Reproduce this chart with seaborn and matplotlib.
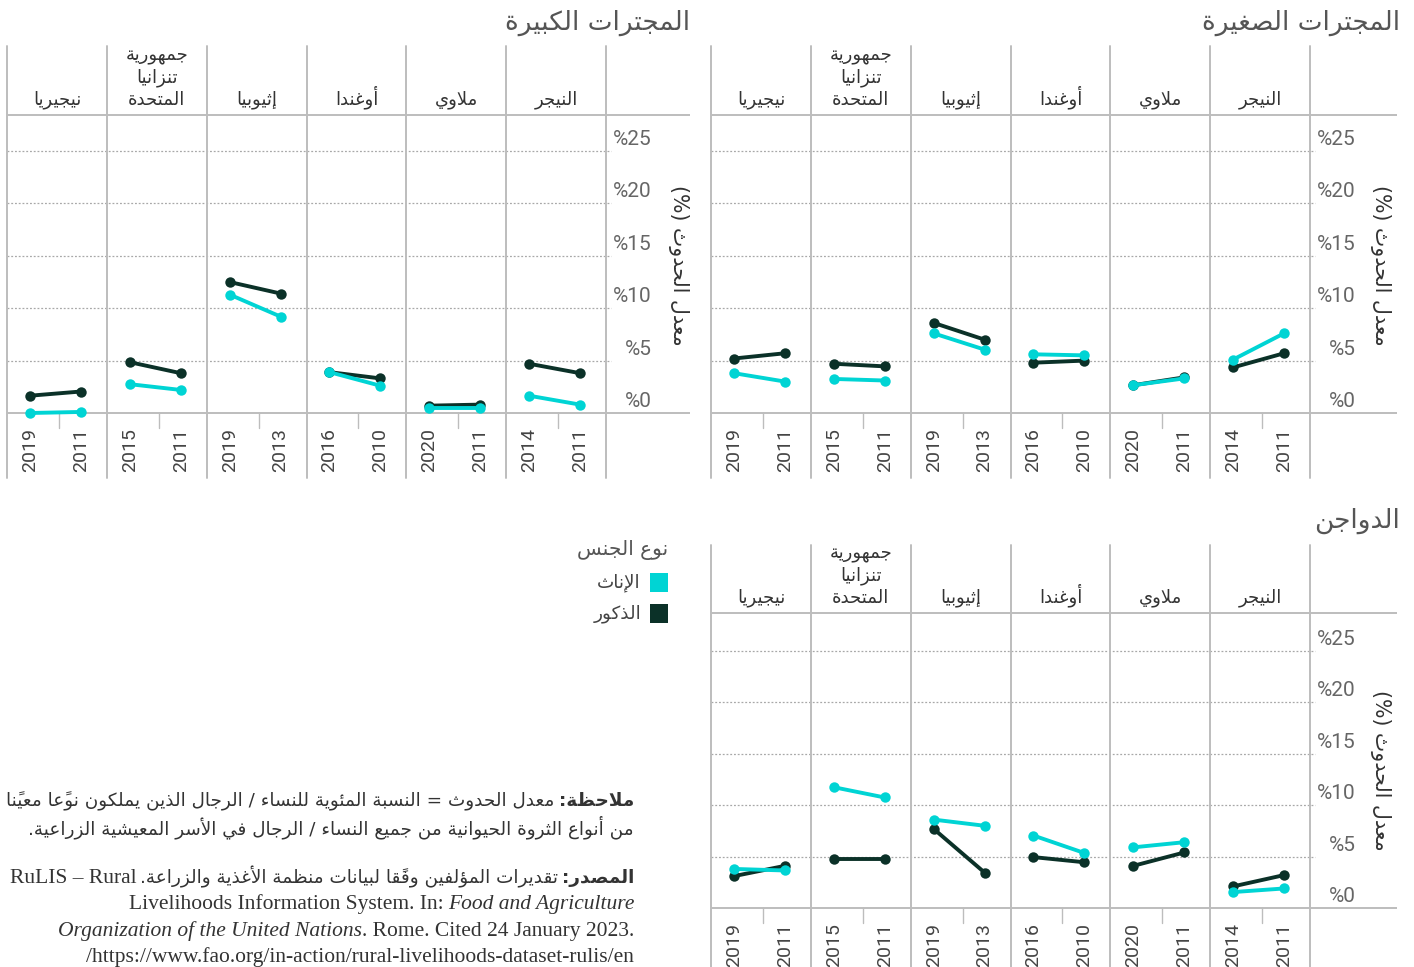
import matplotlib
matplotlib.use('Agg')
import matplotlib.pyplot as plt
import seaborn as sns
import pandas as pd
from matplotlib.patches import Rectangle

# ----------------------------------------
# data (columns left -> right as drawn)
# ----------------------------------------
countries = ['نيجيريا', 'جمهورية\nتنزانيا\nالمتحدة', 'إثيوبيا', 'أوغندا', 'ملاوي', 'النيجر']
years_recent = ['2019', '2015', '2019', '2016', '2020', '2014']
years_base = ['2011', '2011', '2013', '2010', '2011', '2011']

small_women_recent = [3.8, 3.25, 7.6, 5.6, 2.65, 5.1]
small_women_base = [3.0, 3.1, 6.05, 5.5, 3.3, 7.6]
small_men_recent = [5.2, 4.7, 8.6, 4.8, 2.65, 4.35]
small_men_base = [5.7, 4.45, 7.0, 5.0, 3.4, 5.7]

large_women_recent = [0.0, 2.75, 11.3, 3.9, 0.45, 1.65]
large_women_base = [0.1, 2.2, 9.2, 2.6, 0.45, 0.8]
large_men_recent = [1.65, 4.85, 12.5, 3.9, 0.7, 4.7]
large_men_base = [2.05, 3.8, 11.4, 3.3, 0.8, 3.8]

poultry_women_recent = [3.8, 11.75, 8.6, 7.05, 5.9, 1.55]
poultry_women_base = [3.65, 10.75, 8.0, 5.35, 6.4, 1.9]
poultry_men_recent = [3.1, 4.8, 7.7, 4.95, 4.1, 2.1]
poultry_men_base = [4.1, 4.8, 3.45, 4.45, 5.4, 3.2]

yticks = [0, 5, 10, 15, 20, 25]
women, men = 'الإناث', 'الذكور'

# ----------------------------------------
# minimal arabic shaping (matplotlib has no bidi / shaping)
# ----------------------------------------
DUAL = {0x0626: 0xFE89, 0x0628: 0xFE8F, 0x062A: 0xFE95, 0x062B: 0xFE99, 0x062C: 0xFE9D,
        0x062D: 0xFEA1, 0x062E: 0xFEA5, 0x0633: 0xFEB1, 0x0634: 0xFEB5, 0x0635: 0xFEB9,
        0x0636: 0xFEBD, 0x0637: 0xFEC1, 0x0638: 0xFEC5, 0x0639: 0xFEC9, 0x063A: 0xFECD,
        0x0641: 0xFED1, 0x0642: 0xFED5, 0x0643: 0xFED9, 0x0644: 0xFEDD, 0x0645: 0xFEE1,
        0x0646: 0xFEE5, 0x0647: 0xFEE9, 0x064A: 0xFEF1}
RIGHT = {0x0622: 0xFE81, 0x0623: 0xFE83, 0x0624: 0xFE85, 0x0625: 0xFE87, 0x0627: 0xFE8D,
         0x0629: 0xFE93, 0x062F: 0xFEA9, 0x0630: 0xFEAB, 0x0631: 0xFEAD, 0x0632: 0xFEAF,
         0x0648: 0xFEED, 0x0649: 0xFEEF}
LAM_ALEF = {0x0622: 0xFEF5, 0x0623: 0xFEF7, 0x0625: 0xFEF9, 0x0627: 0xFEFB}
HARAKAT = set(range(0x064B, 0x0653))
MIRROR = {'(': ')', ')': '('}


def shape(line):
    clusters = []
    for ch in line:
        if ord(ch) in HARAKAT and clusters:
            clusters[-1][1] += ch
        else:
            clusters.append([ch, ''])
    merged = []
    i = 0
    while i < len(clusters):
        b, m = clusters[i]
        if b == 'ل' and i + 1 < len(clusters) and ord(clusters[i + 1][0]) in LAM_ALEF:
            merged.append(['LA' + clusters[i + 1][0], m + clusters[i + 1][1]])
            i += 2
        else:
            merged.append([b, m])
            i += 1

    def joins_next(b):
        return len(b) == 1 and ord(b) in DUAL

    def joins_prev(b):
        return b.startswith('LA') or (len(b) == 1 and (ord(b) in DUAL or ord(b) in RIGHT))

    out = []
    for i, (b, m) in enumerate(merged):
        pc = i > 0 and joins_next(merged[i - 1][0]) and joins_prev(b)
        nc = i + 1 < len(merged) and joins_next(b) and joins_prev(merged[i + 1][0])
        if b.startswith('LA'):
            g = chr(LAM_ALEF[ord(b[2])] + int(pc))
        elif len(b) == 1 and ord(b) in DUAL:
            base = DUAL[ord(b)]
            g = chr(base + (3 if pc and nc else 1 if pc else 2 if nc else 0))
        elif len(b) == 1 and ord(b) in RIGHT:
            g = chr(RIGHT[ord(b)] + int(pc))
        elif b == 'ء':
            g = '\uFE80'
        else:
            g = b
        out.append(g + m)
    return out


def ar(s):
    lines = []
    for line in s.split('\n'):
        cl = shape(line)
        lines.append(''.join(MIRROR.get(c, c) for c in reversed(cl)))
    return '\n'.join(lines)


# ----------------------------------------
# style
# ----------------------------------------
sns.set_style('white')
plt.rcParams['font.family'] = ['Roboto', 'DejaVu Sans']
AR = 'DejaVu Sans'
CYAN, DARK = '#00D4D4', '#0B3128'
GRID = '#BDBDBD'

W, H = 1414, 967
fig = plt.figure(figsize=(W / 100, H / 100), dpi=100)


def fx(x):
    return x / W


def fy(y):
    return 1 - y / H


panels = [
    dict(title='المجترات الصغيرة', tx=1400, ty=23, left=711, sep=1310, right=1397,
         top=46, head=115, zero=413, g25=151, bottom=478, ylab=(1381, 265),
         wr=small_women_recent, wb=small_women_base, mr=small_men_recent, mb=small_men_base),
    dict(title='المجترات الكبيرة', tx=690, ty=23, left=7, sep=606, right=690,
         top=46, head=115, zero=413, g25=151, bottom=478, ylab=(679, 265),
         wr=large_women_recent, wb=large_women_base, mr=large_men_recent, mb=large_men_base),
    dict(title='الدواجن', tx=1400, ty=521, left=711, sep=1310, right=1397,
         top=545, head=613, zero=908, g25=651, bottom=967, ylab=(1381, 770),
         wr=poultry_women_recent, wb=poultry_women_base, mr=poultry_men_recent, mb=poultry_men_base),
]

for p in panels:
    colw = (p['sep'] - p['left']) / 6
    k = (p['zero'] - p['g25']) / 25
    ax = fig.add_axes([fx(p['left']), fy(p['bottom']), (p['right'] - p['left']) / W,
                       (p['bottom'] - p['top']) / H])
    xmax = (p['right'] - p['left']) / colw
    ymin, ymax = (p['zero'] - p['bottom']) / k, (p['zero'] - p['top']) / k
    head = (p['zero'] - p['head']) / k

    # frame: dotted grid, solid rules, column separators
    for v in yticks[1:]:
        ax.plot([0, 6.05], [v, v], color='#A8A8A8', lw=0.9, ls=(0, (1.5, 1.5)), zorder=1)
    for v in [0, head]:
        ax.plot([0, xmax], [v, v], color=GRID, lw=1.4, zorder=1)
    for i in range(7):
        ax.plot([i, i], [ymin, ymax], color=GRID, lw=1.4, zorder=1, clip_on=False)
    for i in range(6):
        ax.plot([i + 0.52, i + 0.52], [0, -15 / k], color=GRID, lw=1.0, zorder=1)

    # long table for seaborn
    rows = []
    for i in range(6):
        for slot, (w, m) in enumerate([(p['wr'][i], p['mr'][i]), (p['wb'][i], p['mb'][i])]):
            pos = i + (0.23, 0.74)[slot]
            rows.append(dict(country=i, pos=pos, sex=women, value=w))
            rows.append(dict(country=i, pos=pos, sex=men, value=m))
    df = pd.DataFrame(rows)
    sns.lineplot(data=df, x='pos', y='value', hue='sex', units='country', estimator=None,
                 hue_order=[men, women], palette={men: DARK, women: CYAN}, sort=False,
                 marker='o', markersize=7.5, markeredgewidth=0, linewidth=2.8,
                 legend=False, ax=ax, zorder=3)
    ax.set_xlim(0, xmax)
    ax.set_ylim(ymin, ymax)
    ax.axis('off')

    # y tick labels on the right
    for v in yticks:
        ax.annotate(f'%{v}', xy=(6, v), xytext=(46, 2), textcoords='offset pixels',
                    ha='right', va='bottom', fontsize=15, color='#666666')
    # country names and years
    for i, c in enumerate(countries):
        ax.annotate(ar(c), xy=(i + 0.5, head), xytext=(0, 6), textcoords='offset pixels',
                    ha='center', va='bottom', family=AR, fontsize=13, color='#333333',
                    linespacing=1.28, multialignment='center')
        for slot, yr in enumerate([years_recent[i], years_base[i]]):
            ax.annotate(yr, xy=(i + (0.23, 0.74)[slot], 0), xytext=(0, -15),
                        textcoords='offset pixels', rotation=90, ha='center', va='top',
                        fontsize=14, color='#444444', annotation_clip=False)

    fig.text(fx(p['tx']), fy(p['ty']), ar(p['title']), ha='right', va='center',
             family=AR, fontsize=19, color='#555555')
    fig.text(fx(p['ylab'][0]), fy(p['ylab'][1]), ar('معدل الحدوث (%)'), rotation=270,
             ha='center', va='center', family=AR, fontsize=14.8, color='#333333')

# ----------------------------------------
# legend
# ----------------------------------------
fig.text(fx(668), fy(550), ar('نوع الجنس'), ha='right', va='center', family=AR,
         fontsize=14.5, color='#555555')
for yy, col, lab in [(573, CYAN, women), (604, DARK, men)]:
    fig.add_artist(Rectangle((fx(650), fy(yy + 19)), 18 / W, 19 / H, transform=fig.transFigure,
                             color=col, lw=0))
    fig.text(fx(641), fy(yy + 10), ar(lab), ha='right', va='center', family=AR,
             fontsize=13.2, color='#444444')

# ----------------------------------------
# note and source
# ----------------------------------------
r = fig.canvas.get_renderer()
SERIF = 'Liberation Serif'
NOTE = 13.2
LAT = 15.5


def run(x_right, y_base, s, **kw):
    t = fig.text(fx(x_right), fy(y_base), s, ha='right', va='baseline', color='#333333', **kw)
    return t.get_window_extent(r).x0


x = run(634, 806, ar('ملاحظة:'), family=AR, fontsize=NOTE, weight='bold')
run(x - 4, 806, ar('معدل الحدوث = النسبة المئوية للنساء / الرجال الذين يملكون نوعًا معينًا'),
    family=AR, fontsize=NOTE)
run(634, 834, ar('من أنواع الثروة الحيوانية من جميع النساء / الرجال في الأسر المعيشية الزراعية.'),
    family=AR, fontsize=NOTE)

x = run(634, 883, ar('المصدر:'), family=AR, fontsize=NOTE, weight='bold')
x = run(x - 4, 883, ar('تقديرات المؤلفين وفقًا لبيانات منظمة الأغذية والزراعة.'),
        family=AR, fontsize=NOTE)
run(x - 3, 883, 'RuLIS – Rural', family=SERIF, fontsize=LAT)

x = run(634, 909, 'Food and Agriculture', family=SERIF, fontsize=LAT, style='italic')
run(x - 4, 909, 'Livelihoods Information System. In:', family=SERIF, fontsize=LAT)
x = run(634, 936, '. Rome. Cited 24 January 2023.', family=SERIF, fontsize=LAT)
run(x, 936, 'Organization of the United Nations', family=SERIF, fontsize=LAT, style='italic')
run(634, 962, '/https://www.fao.org/in-action/rural-livelihoods-dataset-rulis/en',
    family=SERIF, fontsize=LAT)

fig.savefig('out.png', dpi=100)
